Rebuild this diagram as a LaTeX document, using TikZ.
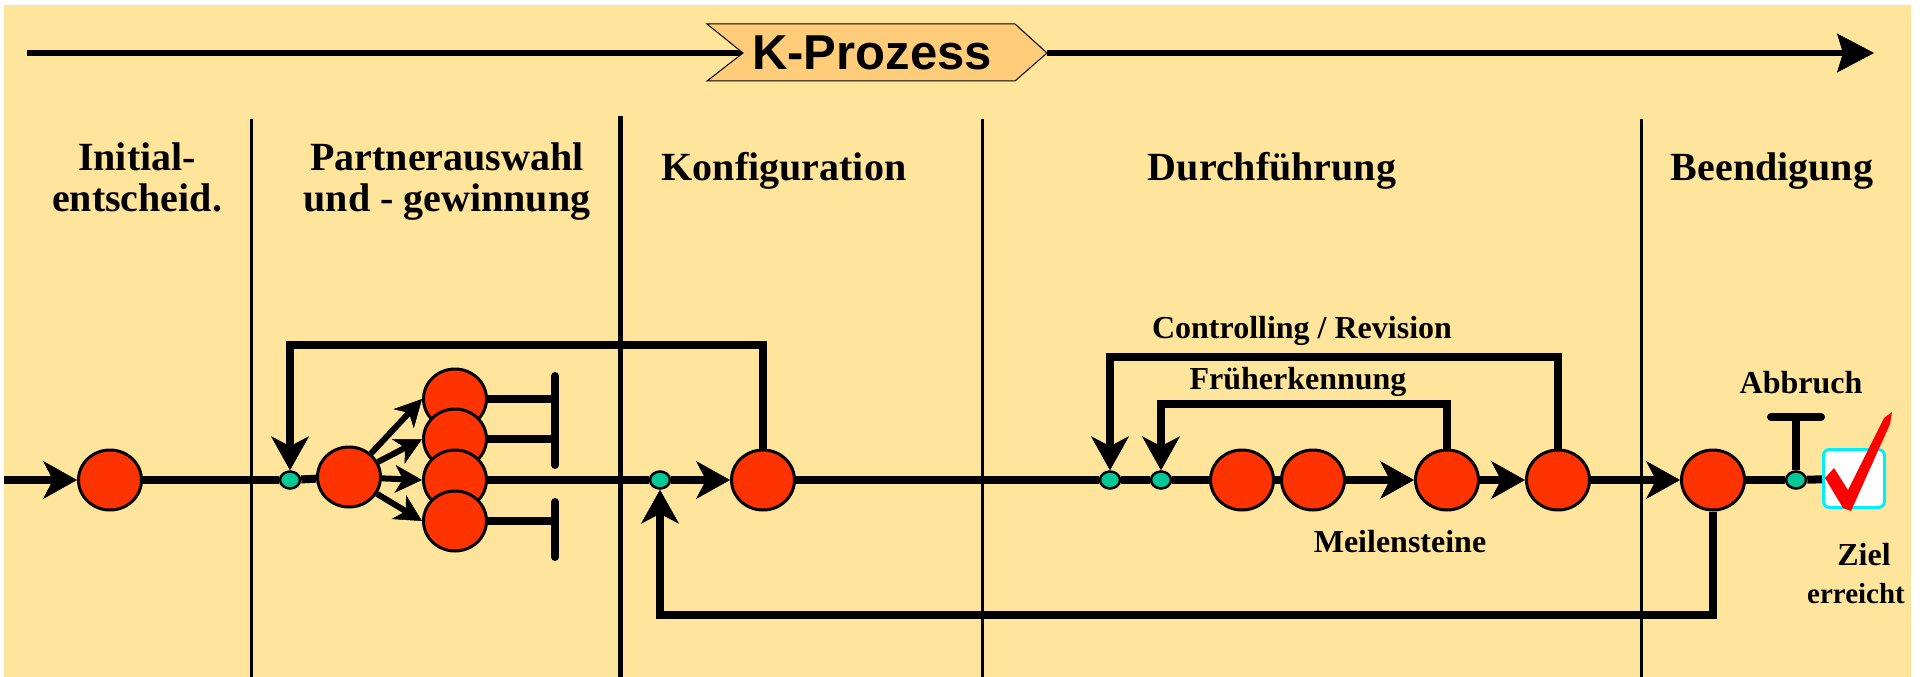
\documentclass[tikz,border=0pt]{standalone}
\usepackage{fontspec}
\setmainfont{Liberation Serif}
\newfontfamily\headsans{Liberation Sans}
\usetikzlibrary{arrows.meta,shapes.geometric,calc}
\definecolor{paper}{RGB}{255,228,155}
\definecolor{bannerfill}{RGB}{255,204,122}
\definecolor{stepred}{RGB}{255,51,0}
\definecolor{joint}{RGB}{0,200,150}
\definecolor{boxcyan}{RGB}{0,238,255}
\definecolor{tickred}{RGB}{255,0,0}
\begin{document}
\begin{tikzpicture}[x=1pt,y=-1pt,
  stage/.style={ellipse,draw=black,line width=3pt,fill=stepred,minimum width=63pt,minimum height=60pt,inner sep=0pt},
  junction/.style={ellipse,draw=black,line width=2.5pt,fill=joint,minimum width=20pt,minimum height=17pt,inner sep=0pt},
  flow/.style={line width=8pt},
  fan/.style={line width=6pt},
  head/.style={-{Stealth[length=34pt,width=38pt,inset=10pt,line width=0.5pt]}},
  smallhead/.style={-{Stealth[length=27pt,width=28pt,inset=8pt,line width=0.5pt]}},
  divider/.style={line width=3pt},
  phase/.style={font=\fontsize{40}{40}\selectfont\bfseries,anchor=base,inner sep=0pt},
  note/.style={font=\fontsize{32}{32}\selectfont\bfseries,anchor=base,inner sep=0pt},
]
\useasboundingbox (0,0) rectangle (1920,677);
\fill[white] (0,0) rectangle (1920,677);
\fill[paper] (4,5) rectangle (1911,677);

% phase dividers
\draw[divider] (251,119) -- (251,677);
\draw[line width=5pt] (620,116) -- (620,677);
\draw[divider] (982,119) -- (982,677);
\draw[divider] (1641,119) -- (1641,677);

% process axis with banner
\coordinate (axisL) at (27,53);
\coordinate (bannerIn) at (743,53);
\coordinate (bannerOut) at (1047,53);
\coordinate (axisR) at (1874,53);
\draw[line width=6pt] (axisL) -- (bannerIn);
\draw[line width=6pt,-{Stealth[length=37pt,width=39pt,inset=6pt,line width=0.5pt]}] (bannerOut) -- (axisR);
\draw[fill=bannerfill,line width=1pt] (707,24) -- (1015,24) -- (bannerOut) -- (1015,81) -- (707,81) -- (bannerIn) -- cycle;
\node[font=\headsans\fontsize{49}{49}\selectfont\bfseries,anchor=base,inner sep=0pt] (banner) at (872,70) {K-Prozess};

% phase headings
\node[phase] (h1a) at (137,170) {Initial-};
\node[phase] (h1b) at (137,211) {entscheid.};
\node[phase] (h2a) at (447,170) {Partnerauswahl};
\node[phase] (h2b) at (447,211) {und - gewinnung};
\node[phase] (h3) at (784,180) {Konfiguration};
\node[phase] (h4) at (1272,180) {Durchführung};
\node[phase] (h5) at (1772,180) {Beendigung};

% process steps
\node[stage] (init) at (110,480) {};
\node[junction] (j1) at (290,480) {};
\node[stage] (sel) at (349,477) {};
\node[stage] (c1) at (455,399) {};
\node[stage] (c2) at (455,439) {};
\node[stage] (c3) at (455,480) {};
\node[stage] (c4) at (455,521) {};
\node[junction] (j2) at (660,480) {};
\node[stage] (conf) at (763,480) {};
\node[junction] (j3) at (1110,480) {};
\node[junction] (j4) at (1161,480) {};
\node[stage] (m1) at (1242,480) {};
\node[stage] (m2) at (1313,480) {};
\node[stage] (m3) at (1447,480) {};
\node[stage] (m4) at (1558,480) {};
\node[stage] (fin) at (1713,480) {};
\node[junction] (j5) at (1796,480) {};
\node[draw=boxcyan,line width=3pt,fill=white,rounded corners=6pt,minimum width=61pt,minimum height=58pt,inner sep=0pt] (goal) at (1854,478.5) {};

% main flow
\coordinate (src) at (4,480);
\draw[flow,head] (src) -- (init);
\draw[flow] (init) -- (j1);
\draw[flow] (j1) -- (sel);
\foreach \c in {c1,c2,c3,c4} \draw[fan,smallhead] (sel) -- (\c.west);
\draw[flow] (c3) -- (j2);
\draw[flow,head] (j2) -- (conf);
\draw[flow] (conf) -- (j3);
\draw[flow] (j3) -- (j4);
\draw[flow] (j4) -- (m1);
\draw[flow] (m1) -- (m2);
\draw[flow,head] (m2) -- (m3);
\draw[flow,head] (m3) -- (m4);
\draw[flow,head] (m4) -- (fin);
\draw[flow] (fin) -- (j5);
\draw[flow] (j5) -- (goal);

% rejected candidates
\coordinate (stopA) at (555,399);
\coordinate (stopB) at (555,439);
\coordinate (stopC) at (555,521);
\coordinate (barAtop) at (555,376);
\coordinate (barAbot) at (555,465);
\coordinate (barBtop) at (555,502);
\coordinate (barBbot) at (555,557);
\draw[flow] (c1) -- (stopA);
\draw[flow] (c2) -- (stopB);
\draw[flow] (c4) -- (stopC);
\draw[flow,line cap=round] (barAtop) -- (barAbot);
\draw[flow,line cap=round] (barBtop) -- (barBbot);

% feedback loops
\coordinate (loopA) at (0,345);
\coordinate (loopB) at (0,357);
\coordinate (loopC) at (0,404);
\coordinate (loopD) at (0,615);
\draw[flow,head] (conf) -- (conf |- loopA) -| (j1);
\draw[flow,head] (m4) -- (m4 |- loopB) -| (j3);
\draw[flow,head] (m3) -- (m3 |- loopC) -| (j4);
\draw[flow,head] (fin) -- (fin |- loopD) -| (j2);

% abort branch
\coordinate (abort) at (1796,417);
\coordinate (abortL) at (1771,417);
\coordinate (abortR) at (1821,417);
\draw[flow] (j5) -- (abort);
\draw[flow,line cap=round] (abortL) -- (abortR);

% tick in the goal box
\fill[tickred] (1825,478) -- (1834,468) -- (1848,490) -- (1884,418) -- (1892,412) -- (1890,424) -- (1851,511) -- (1843,508) -- cycle;

% annotations
\node[note] (tCtrl) at (1302,338) {Controlling / Revision};
\node[note] (tEarly) at (1298,389) {Früherkennung};
\node[note] (tMile) at (1400,552) {Meilensteine};
\node[note] (tAbort) at (1801,393) {Abbruch};
\node[note] (tGoal1) at (1864,565) {Ziel};
\node[note,font=\fontsize{29}{29}\selectfont\bfseries] (tGoal2) at (1856,603) {erreicht};
\end{tikzpicture}
\end{document}
